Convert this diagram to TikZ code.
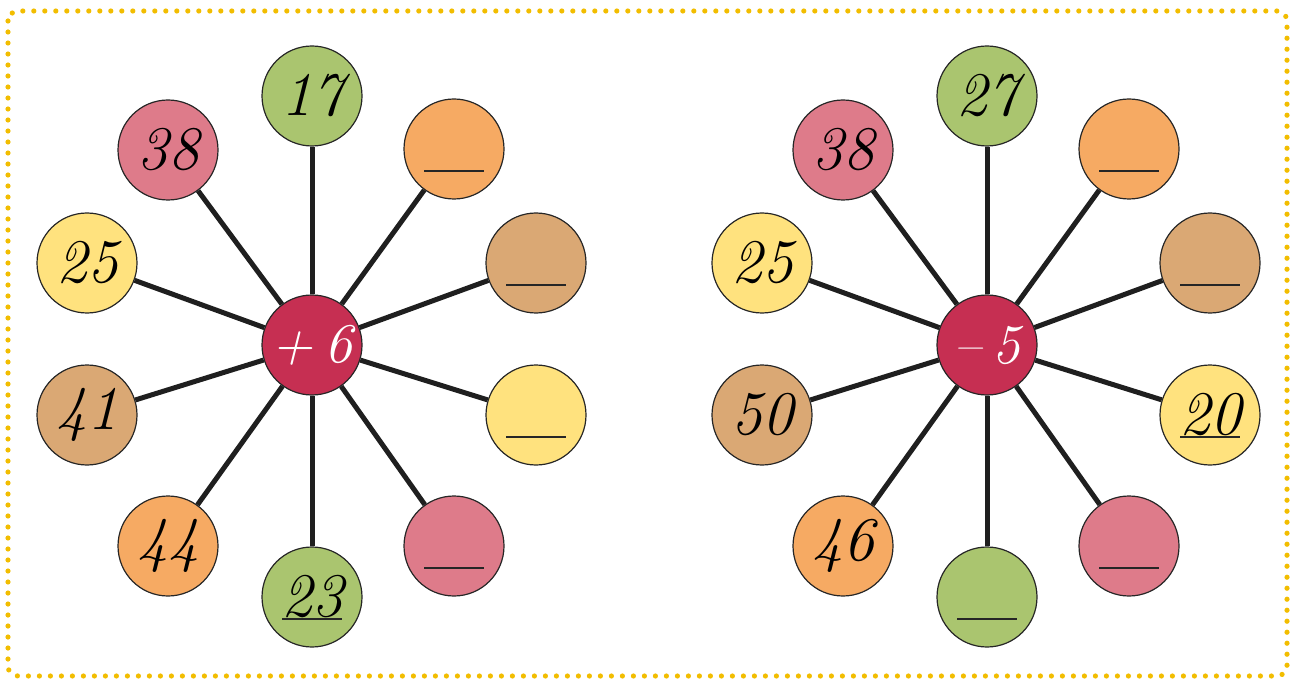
\documentclass[tikz,border=0pt]{standalone}
\definecolor{leafgreen}{HTML}{AAC56F}
\definecolor{rosepink}{HTML}{DE7B8A}
\definecolor{peach}{HTML}{F6AA63}
\definecolor{sand}{HTML}{DAA874}
\definecolor{butter}{HTML}{FFE27E}
\definecolor{hubred}{HTML}{C62F52}
\definecolor{dotgold}{HTML}{F2BD00}
\begin{document}
\begin{tikzpicture}[x=0.5pt, y=-0.5pt,
		ball/.style={circle, draw=black!85, line width=0.6pt, minimum size=50pt, inner sep=0pt,
			font=\fontsize{31}{31}\selectfont\itshape},
		hub/.style={ball, fill=hubred, text=white, font=\fontsize{28}{28}\selectfont\itshape},
		spoke/.style={line width=2.5pt, black!88}]
	\useasboundingbox (0,0) rectangle (1290,679);
	\draw[line width=2.6pt, dotgold, dash pattern=on 0pt off 5.5pt, line cap=round, rounded corners=5pt]
		(8,11) rectangle (1287,676);
	% left wheel
	\node[hub] (L) at (312,345) {+\kern6pt6};
	\foreach \nm/\px/\py/\col/\txt in {L1/312/96/leafgreen/17, L2/454/149/peach/{}, L3/536/263/sand/{},
			L4/536/415/butter/{}, L5/454/546/rosepink/{}, L6/312/597/leafgreen/23, L7/168/546/peach/44,
			L8/87/415/sand/41, L9/87/263/butter/25, L10/168/150/rosepink/38} {
			\node[ball, fill=\col] (\nm) at (\px,\py) {\txt};
			\draw[spoke] (L) -- (\nm);
		}
	% right wheel
	\node[hub] (R) at (987,345) {–\kern6pt5};
	\foreach \nm/\px/\py/\col/\txt in {R1/987/96/leafgreen/27, R2/1129/149/peach/{}, R3/1210/263/sand/{},
			R4/1210/415/butter/20, R5/1129/546/rosepink/{}, R6/987/597/leafgreen/{}, R7/843/546/peach/46,
			R8/762/415/sand/50, R9/762/263/butter/25, R10/843/150/rosepink/38} {
			\node[ball, fill=\col] (\nm) at (\px,\py) {\txt};
			\draw[spoke] (R) -- (\nm);
		}
	% answer lines
	\foreach \nm in {L2,L3,L4,L5,L6,R2,R3,R4,R5,R6}
		\draw[line width=0.7pt, black!85] ([xshift=-15pt, yshift=-11pt]\nm.center) -- ++(30pt,0pt);
\end{tikzpicture}
\end{document}
